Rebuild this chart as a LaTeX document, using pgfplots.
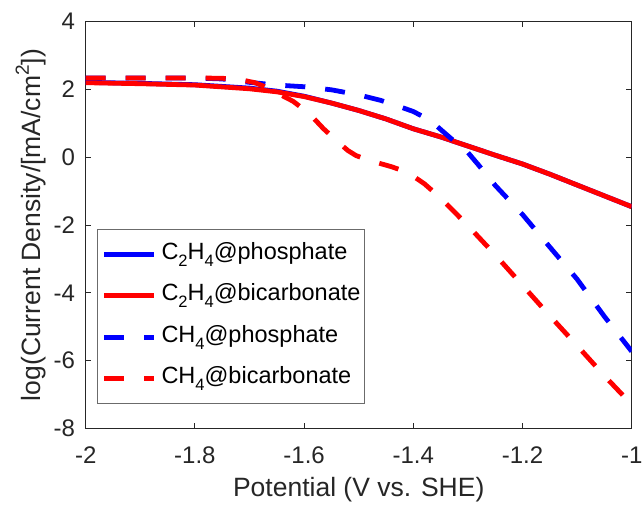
\documentclass[border=0pt]{standalone}
\usepackage{fontspec}
\setmainfont{Liberation Sans}
\usepackage{pgfplots}
\pgfplotsset{compat=1.18}
\definecolor{axgray}{rgb}{0.15,0.15,0.15}
\definecolor{leggray}{rgb}{0.42,0.42,0.42}
\newcommand\sub[1]{\raisebox{-0.3em}{\fontsize{16.5}{16.5}\selectfont #1}}
\begin{document}
\begin{tikzpicture}
\begin{axis}[
  name=ax,
  scale only axis, width=546pt, height=406.6pt,
  xmin=-2, xmax=-1, ymin=-8, ymax=4,
  xtick={-2,-1.8,-1.6,-1.4,-1.2,-1},
  xticklabels={-2,-1.8,-1.6,-1.4,-1.2,-1},
  ytick={-8,-6,-4,-2,0,2,4},
  yticklabels={-8,-6,-4,-2,0,2,4},
  tick align=inside, major tick length=5.5pt,
  axis line style={axgray, line width=0.9pt},
  every tick/.style={axgray, line width=0.9pt},
  tick label style={font=\fontsize{24}{28}\selectfont, text=axgray},
  xticklabel style={inner sep=0pt, yshift=-18pt},
  yticklabel style={inner sep=0pt, xshift=-10.5pt},
  xlabel={Potential (V vs. SHE)},
  ylabel={log(Current Density/[mA/cm\raisebox{0.42em}{\fontsize{19}{19}\selectfont 2}])},
  label style={font=\fontsize{26.5}{30}\selectfont, text=axgray},
  xlabel style={at={(axis description cs:0.5,-0.1665)}, anchor=base},
  ylabel style={at={(axis description cs:-0.0837,0.5)}, anchor=base},
  no markers,
  legend image code/.code={\draw[#1] (0pt,0pt) -- (50pt,0pt);},
  legend cell align=left,
  legend style={at={(axis description cs:0.0212,0.4894)}, anchor=north west,
    draw=leggray, line width=0.9pt, fill=white,
    font=\fontsize{23.5}{27}\selectfont,
    inner xsep=4pt, inner ysep=12.5pt, row sep=17.5pt, column sep=5pt,
    nodes={inner sep=0pt, text height=17pt, text depth=7pt}},
]
\addplot[draw=blue, line width=4.8pt, line join=round] coordinates {
(-2.00,2.21) (-1.90,2.18) (-1.80,2.14) (-1.70,2.04) (-1.65,1.95) (-1.60,1.80)
(-1.55,1.60) (-1.50,1.38) (-1.45,1.13) (-1.40,0.84) (-1.35,0.60) (-1.30,0.33)
(-1.25,0.06) (-1.20,-0.20) (-1.15,-0.50) (-1.10,-0.82) (-1.05,-1.14) (-1.00,-1.46)};
\addlegendentry{C\sub{2}H\sub{4}@phosphate}
\addplot[draw=red, line width=4.8pt, line join=round] coordinates {
(-2.00,2.20) (-1.90,2.17) (-1.80,2.13) (-1.70,2.02) (-1.65,1.93) (-1.60,1.79)
(-1.55,1.60) (-1.50,1.38) (-1.45,1.13) (-1.40,0.84) (-1.35,0.60) (-1.30,0.33)
(-1.25,0.06) (-1.20,-0.20) (-1.15,-0.50) (-1.10,-0.82) (-1.05,-1.14) (-1.00,-1.46)};
\addlegendentry{C\sub{2}H\sub{4}@bicarbonate}
\addplot[draw=blue, line width=4.8pt, dash pattern=on 20pt off 20pt, line join=round] coordinates {
(-2.00,2.34) (-1.90,2.34) (-1.80,2.34) (-1.75,2.31) (-1.70,2.21) (-1.65,2.13)
(-1.60,2.08) (-1.55,1.99) (-1.50,1.84) (-1.46,1.68) (-1.43,1.52) (-1.40,1.35)
(-1.38,1.18) (-1.36,0.96) (-1.33,0.54) (-1.30,0.14) (-1.28,-0.24) (-1.25,-0.83)
(-1.20,-1.69) (-1.15,-2.65) (-1.10,-3.60) (-1.05,-4.70) (-1.00,-5.73)};
\addlegendentry{CH\sub{4}@phosphate}
\addplot[draw=red, line width=4.8pt, dash pattern=on 20pt off 20pt, line join=round] coordinates {
(-2.00,2.34) (-1.90,2.34) (-1.80,2.34) (-1.75,2.33) (-1.72,2.30) (-1.69,2.20)
(-1.67,2.07) (-1.65,1.90) (-1.62,1.65) (-1.59,1.28) (-1.565,0.85) (-1.54,0.48)
(-1.52,0.20) (-1.505,0.05) (-1.49,-0.04) (-1.475,-0.12) (-1.44,-0.28) (-1.41,-0.45)
(-1.38,-0.78) (-1.35,-1.20) (-1.30,-2.02) (-1.25,-2.88) (-1.20,-3.78) (-1.15,-4.68)
(-1.10,-5.56) (-1.05,-6.45) (-1.00,-7.30)};
\addlegendentry{CH\sub{4}@bicarbonate}
\end{axis}
\pgfresetboundingbox
\path[use as bounding box] ([shift={(-85.7pt,-78.7pt)}]ax.south west) rectangle ([shift={(557.3pt,428.3pt)}]ax.south west);
\end{tikzpicture}
\end{document}
